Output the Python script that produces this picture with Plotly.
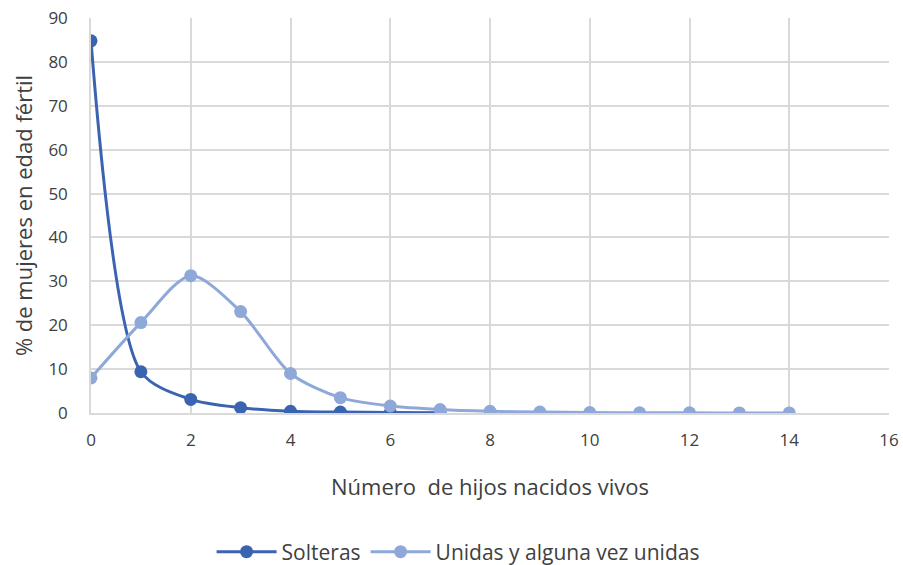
import plotly.graph_objects as go

# Number of live births and share of women of childbearing age (%)
hijos_solteras = [0, 1, 2, 3, 4, 5, 6, 7]
solteras = [84.8, 9.4, 3.1, 1.2, 0.4, 0.2, 0.1, 0.05]

hijos_unidas = [0, 1, 2, 3, 4, 5, 6, 7, 8, 9, 10, 11, 12, 13, 14]
unidas = [8.0, 20.6, 31.3, 23.1, 9.0, 3.5, 1.6, 0.8, 0.4, 0.2, 0.1, 0.05, 0.03, 0.02, 0.01]

x_ticks = list(range(0, 17, 2))
y_ticks = list(range(0, 91, 10))

DARK = "#3A63B1"
LIGHT = "#8FA8DA"
TEXT = "#404040"
GRID = "#D9D9D9"
FONT = "Open Sans"

fig = go.Figure()

fig.add_trace(go.Scatter(
    x=hijos_solteras, y=solteras, name="Solteras",
    mode="lines+markers",
    line=dict(color=DARK, width=3, shape="spline", smoothing=0.8),
    marker=dict(color=DARK, size=13),
))
fig.add_trace(go.Scatter(
    x=hijos_unidas, y=unidas, name="Unidas y alguna vez unidas",
    mode="lines+markers",
    line=dict(color=LIGHT, width=3, shape="spline", smoothing=0.8),
    marker=dict(color=LIGHT, size=13),
))

fig.update_layout(
    width=903, height=565,
    margin=dict(l=91, r=14, t=18, b=152, autoexpand=False),
    paper_bgcolor="white", plot_bgcolor="white",
    font=dict(family=FONT, size=17, color=TEXT),
    showlegend=True,
    legend=dict(
        orientation="h", x=0.46, xanchor="center", y=-0.352, yanchor="middle",
        font=dict(size=21, color=TEXT), itemwidth=60,
    ),
    xaxis=dict(
        range=[0, 16], tickvals=x_ticks, ticktext=[str(v) for v in x_ticks],
        showgrid=True, gridcolor=GRID, gridwidth=1.5,
        showline=True, linecolor=GRID, linewidth=1.5,
        zeroline=False, ticks="outside", ticklen=11, tickcolor="white",
        tickfont=dict(size=17, color=TEXT),
        title=dict(text="Número  de hijos nacidos vivos", standoff=29,
                   font=dict(size=22, color=TEXT)),
    ),
    yaxis=dict(
        range=[0, 90], tickvals=y_ticks, ticktext=[str(v) for v in y_ticks],
        showgrid=True, gridcolor=GRID, gridwidth=1.5,
        showline=True, linecolor=GRID, linewidth=1.5,
        zeroline=False, ticks="outside", ticklen=18, tickcolor="white",
        tickfont=dict(size=17, color=TEXT),
        title=dict(text="% de mujeres en edad fértil", standoff=10,
                   font=dict(size=22, color=TEXT)),
    ),
)

fig.write_html("out.html")
